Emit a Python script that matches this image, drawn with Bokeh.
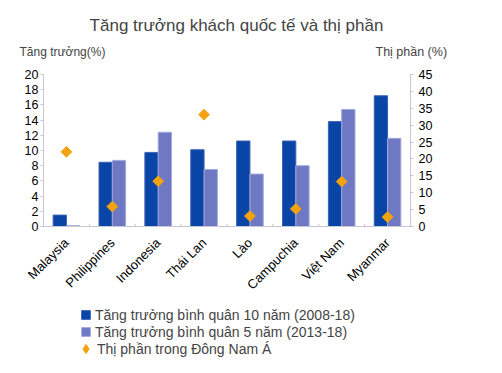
from math import pi
from bokeh.plotting import figure
from bokeh.models import (FactorRange, Range1d, LinearAxis, Legend, LegendItem,
                          Label, ColumnDataSource, FixedTicker)
from bokeh.transform import dodge
from bokeh.embed import file_html
from bokeh.resources import INLINE

countries = ["Malaysia", "Philippines", "Indonesia", "Thái Lan", "Lào",
             "Campuchia", "Việt Nam", "Myanmar"]
growth10 = [1.5, 8.45, 9.75, 10.1, 11.25, 11.25, 13.8, 17.2]
growth5 = [0.1, 8.7, 12.4, 7.5, 6.9, 8.0, 15.4, 11.6]
share = [22.1, 5.9, 13.4, 33.1, 3.1, 5.2, 13.3, 2.8]
left_ticks = list(range(0, 21, 2))
right_ticks = list(range(0, 46, 5))
title_text = "Tăng trưởng khách quốc tế và thị phần"
left_title = "Tăng trưởng(%)"
right_title = "Thị phần (%)"
legend_labels = ["Tăng trưởng bình quân 10 năm (2008-18)",
                 "Tăng trưởng bình quân 5 năm (2013-18)",
                 "Thị phần trong Đông Nam Á"]

FONT = "Liberation Sans"
DARK = "#0845A6"
LIGHT = "#6F79C3"
ORANGE = "#F2A30F"
AXIS = "#C5C7D6"
W = 486

# ---------- header (title + axis titles) ----------
top = figure(width=W, height=66, x_range=Range1d(0, W), y_range=Range1d(66, 0),
             x_axis_type=None, y_axis_type=None, output_backend="svg",
             toolbar_location=None, min_border=0)
top.grid.visible = False
top.outline_line_color = None
top.add_layout(Label(x=236, y=25, text=title_text, text_align="center",
                     text_baseline="middle", text_font=FONT, text_font_size="17px"))
top.add_layout(Label(x=19, y=51.5, text=left_title, text_align="left",
                     text_baseline="middle", text_font=FONT, text_font_size="12px"))
top.add_layout(Label(x=375, y=51.5, text=right_title, text_align="left",
                     text_baseline="middle", text_font=FONT, text_font_size="12.5px"))

# ---------- main chart ----------
src = ColumnDataSource(dict(country=countries, g10=growth10, g5=growth5, share=share))
bsrc = ColumnDataSource(dict(country=countries[:-1]))

p = figure(width=W, height=234, x_range=FactorRange(*countries),
           y_range=Range1d(0, 20), output_backend="svg", toolbar_location=None,
           min_border_left=43, min_border_right=76, min_border_top=8,
           min_border_bottom=67)
p.extra_y_ranges = {"share": Range1d(0, 45)}
p.xgrid.visible = False
p.ygrid.visible = False
p.outline_line_color = None

p.vbar(x=dodge("country", -0.145, range=p.x_range), top="g10", width=0.29,
       source=src, fill_color=DARK, line_color="#3C62B5", line_width=1)
p.vbar(x=dodge("country", 0.145, range=p.x_range), top="g5", width=0.29,
       source=src, fill_color=LIGHT, line_color="#A3A9DC", line_width=1)
p.scatter(x="country", y="share", y_range_name="share", source=src,
          marker="square", angle=pi / 4, size=7.6, fill_color=ORANGE,
          line_color=ORANGE)
p.segment(x0=dodge("country", 0.5, range=p.x_range), y0=0,
          x1=dodge("country", 0.5, range=p.x_range), y1=0.35, source=bsrc,
          line_color=AXIS, line_width=1)

ya = p.yaxis[0]
ya.ticker = FixedTicker(ticks=left_ticks)
ra = LinearAxis(y_range_name="share", ticker=FixedTicker(ticks=right_ticks))
p.add_layout(ra, "right")
for ax in (ya, ra):
    ax.axis_line_color = AXIS
    ax.major_tick_line_color = AXIS
    ax.minor_tick_line_color = None
    ax.major_tick_out = 3
    ax.major_tick_in = 0
    ax.major_label_text_font = FONT
    ax.major_label_text_font_size = "12.5px"
    ax.major_label_text_color = "black"
ya.major_label_standoff = 2
ra.major_label_standoff = 5

xa = p.xaxis[0]
xa.axis_line_color = AXIS
xa.major_tick_line_color = None
xa.minor_tick_line_color = None
xa.major_label_orientation = pi / 4
xa.major_label_text_font = FONT
xa.major_label_text_font_size = "13px"
xa.major_label_text_color = "black"
xa.major_label_standoff = 8

# ---------- legend strip ----------
leg = figure(width=W, height=57, x_range=Range1d(0, 1), y_range=Range1d(0, 1),
             x_axis_type=None, y_axis_type=None, output_backend="svg",
             toolbar_location=None, min_border=0)
leg.grid.visible = False
leg.outline_line_color = None
# off-range proxies, used only as legend swatches
l1 = leg.vbar(x=[-10], top=[-10], width=0.29, fill_color=DARK, line_color="#3C62B5")
l2 = leg.vbar(x=[-10], top=[-10], width=0.29, fill_color=LIGHT, line_color="#A3A9DC")
l3 = leg.scatter(x=[-10], y=[-10], marker="diamond", size=7.6,
                 fill_color=ORANGE, line_color=ORANGE)


def style(lg, gw, gh, standoff):
    lg.padding = 0
    lg.margin = 0
    lg.spacing = 0
    lg.border_line_color = None
    lg.background_fill_alpha = 0
    lg.label_text_font = FONT
    lg.label_text_font_size = "14px"
    lg.label_height = 17
    lg.glyph_width = gw
    lg.glyph_height = gh
    lg.label_standoff = standoff


legA = Legend(items=[LegendItem(label=legend_labels[0], renderers=[l1]),
                     LegendItem(label=legend_labels[1], renderers=[l2])],
              location=(80, 17))
style(legA, 11, 11, 4)
legB = Legend(items=[LegendItem(label=legend_labels[2], renderers=[l3])],
              location=(74, -3))
style(legB, 23, 23, 0)
leg.add_layout(legA)
leg.add_layout(legB)

open("out.html", "w").write(file_html([top, p, leg], INLINE))
